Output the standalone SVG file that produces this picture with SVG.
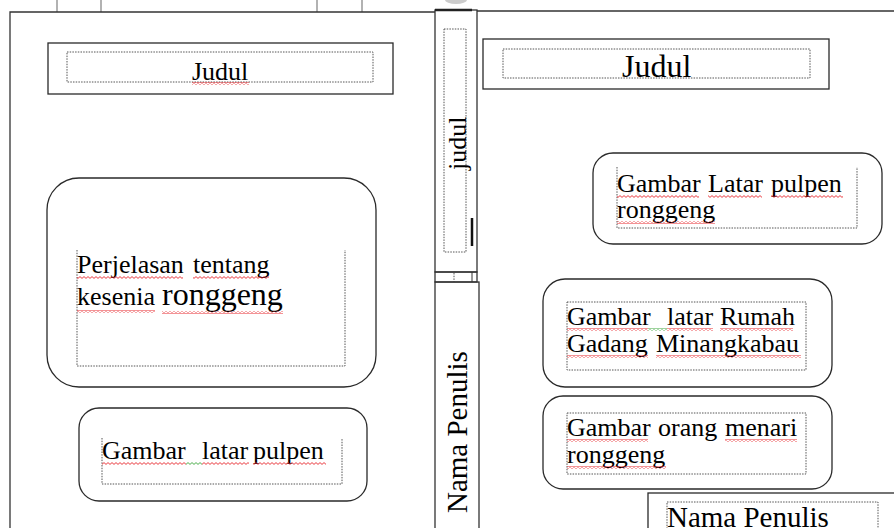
<svg xmlns="http://www.w3.org/2000/svg" width="894" height="528" viewBox="0 0 894 528">
<defs>
<pattern id="sqr" width="4" height="3" patternUnits="userSpaceOnUse"><path d="M0 0.6 L2 2.4 L4 0.6" fill="none" stroke="#e8262b" stroke-width="0.9"/></pattern>
<pattern id="sqg" width="4" height="3" patternUnits="userSpaceOnUse"><path d="M0 0.6 L2 2.4 L4 0.6" fill="none" stroke="#3aa53a" stroke-width="0.9"/></pattern>
<style>
.frame{fill:none;stroke:#333;stroke-width:1.3}
.box{fill:#fff;stroke:#2a2a2a;stroke-width:1.3}
.dot{fill:none;stroke:#555;stroke-width:1;stroke-dasharray:1.5 1.2}
.t{font-family:"Liberation Serif","Times New Roman",serif;font-size:26px;fill:#000}
.red{fill:url(#sqr)}
.grn{fill:url(#sqg)}
.tick{stroke:#999;stroke-width:1.5}
</style>
</defs>
<rect width="894" height="528" fill="#fff"/>
<g id="page-frame">
<line class="tick" x1="57" y1="0" x2="57" y2="12"/>
<line class="tick" x1="101" y1="0" x2="101" y2="12"/>
<line class="tick" x1="317" y1="0" x2="317" y2="12"/>
<line class="tick" x1="362" y1="0" x2="362" y2="12"/>
<ellipse cx="456" cy="0" rx="11" ry="4" fill="#ccc"/>
<path class="frame" d="M10 528 V12 H435"/>
<path class="frame" d="M477 11 H894"/>
</g>
<g id="spine">
<rect class="frame" x="435" y="10" width="42" height="262"/>
<line x1="435" y1="10" x2="472" y2="10" stroke="#222" stroke-width="2.5"/>
<rect class="dot" x="444" y="29" width="22" height="223"/>
<line x1="472" y1="218" x2="472" y2="246" stroke="#111" stroke-width="2.5"/>
<text class="t" transform="translate(466 170) rotate(-90)">judul</text>
<rect class="frame" x="435" y="272" width="42" height="10"/>
<line class="dot" x1="454" y1="273" x2="454" y2="282"/>
<line x1="472" y1="272" x2="472" y2="282" stroke="#333" stroke-width="1"/>
<rect class="frame" x="435" y="282" width="44" height="250"/>
<text class="t" style="font-size:29px" transform="translate(467 513) rotate(-90)">Nama Penulis</text>
</g>
<g id="judul-left">
<rect class="box" x="48" y="43" width="345" height="51"/>
<rect class="dot" x="67" y="52" width="306" height="30"/>
<text class="t" x="192" y="80">Judul</text>
<rect class="red" x="192" y="82" width="57" height="3"/>
</g>
<g id="penjelasan">
<rect class="box" x="47" y="178" width="329" height="209" rx="32"/>
<path class="dot" d="M77 250 V366 H345 V250"/>
<text class="t" x="77" y="273">Perjelasan</text>
<text class="t" x="193" y="273">tentang</text>
<text class="t" x="77" y="305">kesenia</text>
<text class="t" x="162" y="305" style="font-size:32px">ronggeng</text>
<rect class="red" x="77" y="276" width="106" height="3"/>
<rect class="red" x="193" y="276" width="76" height="3"/>
<rect class="red" x="77" y="310" width="78" height="3"/>
<rect class="red" x="162" y="311" width="121" height="3"/>
</g>
<g id="gambar-pulpen-left">
<rect class="box" x="79" y="408" width="288" height="93" rx="20"/>
<path class="dot" d="M102 438 V484 H342 V438"/>
<text class="t" x="102" y="459">Gambar</text>
<text class="t" x="202" y="459">latar</text>
<text class="t" x="253" y="459">pulpen</text>
<rect class="red" x="102" y="462" width="84" height="3"/>
<rect class="grn" x="186" y="462" width="16" height="3"/>
<rect class="red" x="202" y="462" width="47" height="3"/>
<rect class="red" x="253" y="462" width="73" height="3"/>
</g>
<g id="judul-right">
<rect class="box" x="483" y="39" width="346" height="50"/>
<rect class="dot" x="503" y="49" width="307" height="29"/>
<text class="t" x="622" y="77" style="font-size:32px">Judul</text>
</g>
<g id="gambar-latar-pulpen">
<rect class="box" x="593" y="153" width="289" height="91" rx="20"/>
<path class="dot" d="M617 167 V228 H857 V167"/>
<text class="t" x="617" y="192">Gambar</text>
<text class="t" x="708" y="192">Latar</text>
<text class="t" x="771" y="192">pulpen</text>
<text class="t" x="617" y="218">ronggeng</text>
<rect class="red" x="617" y="195" width="82" height="3"/>
<rect class="red" x="708" y="195" width="54" height="3"/>
<rect class="red" x="771" y="195" width="72" height="3"/>
<rect class="red" x="617" y="221" width="98" height="3"/>
</g>
<g id="gambar-rumah-gadang">
<rect class="box" x="543" y="279" width="289" height="108" rx="22"/>
<rect class="dot" x="567" y="302" width="239" height="68"/>
<text class="t" x="567" y="325">Gambar</text>
<text class="t" x="667" y="325">latar</text>
<text class="t" x="720" y="325">Rumah</text>
<text class="t" x="567" y="352">Gadang</text>
<text class="t" x="656" y="352">Minangkabau</text>
<rect class="red" x="567" y="328" width="81" height="3"/>
<rect class="grn" x="648" y="328" width="19" height="3"/>
<rect class="red" x="667" y="328" width="46" height="3"/>
<rect class="red" x="720" y="328" width="73" height="3"/>
<rect class="red" x="567" y="355" width="81" height="3"/>
<rect class="red" x="656" y="355" width="145" height="3"/>
</g>
<g id="gambar-orang-menari">
<rect class="box" x="543" y="396" width="289" height="93" rx="20"/>
<rect class="dot" x="567" y="413" width="239" height="61"/>
<text class="t" x="567" y="436">Gambar</text>
<text class="t" x="658" y="436">orang</text>
<text class="t" x="725" y="436">menari</text>
<text class="t" x="567" y="463">ronggeng</text>
<rect class="red" x="567" y="439" width="81" height="3"/>
<rect class="red" x="725" y="439" width="72" height="3"/>
<rect class="red" x="567" y="466" width="99" height="3"/>
</g>
<g id="nama-penulis-right">
<rect class="box" x="648" y="493" width="260" height="50"/>
<rect class="dot" x="667" y="502" width="211" height="40"/>
<text class="t" x="667" y="527" style="font-size:29px">Nama Penulis</text>
</g>
<g id="connectors"/>
</svg>
